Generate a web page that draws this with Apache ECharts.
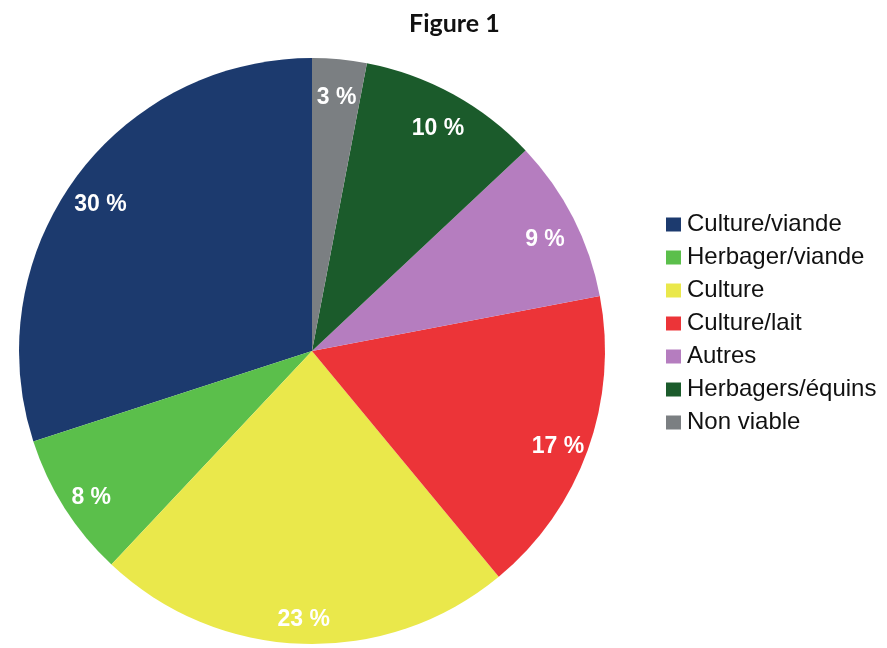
<!DOCTYPE html>
<html>
<head>
<meta charset="utf-8">
<script src="https://cdn.jsdelivr.net/npm/echarts@6/dist/echarts.min.js"></script>
<style>
  html, body { margin: 0; padding: 0; background: #ffffff; }
  #chart { width: 887px; height: 648px; }
</style>
</head>
<body>
<div id="chart"></div>
<script>
// Farm types, share of holdings (%)
const categories = ['Culture/viande', 'Herbager/viande', 'Culture', 'Culture/lait', 'Autres', 'Herbagers/équins', 'Non viable'];
const shares = [30, 8, 23, 17, 9, 10, 3];
const colors = ['#1c3a6e', '#5bbf4b', '#eae84b', '#ec3438', '#b57dbf', '#1b5b2b', '#7b7f82'];

const center = [312, 351];
const outerR = 293;

const pieData = categories.map((name, i) => ({ name, value: shares[i], itemStyle: { color: colors[i] } }));
// transparent ring used only to place the percentage labels near the rim
const labelData = categories.map((name, i) => ({ name, value: shares[i] }));

const chart = echarts.init(document.getElementById('chart'), null, { renderer: 'canvas' });
chart.setOption({
  animation: false,
  backgroundColor: '#ffffff',
  title: {
    text: 'Figure 1',
    left: 404,
    top: 6,
    textStyle: { fontFamily: 'Lato, sans-serif', fontWeight: 'bold', fontSize: 25, color: '#111111' }
  },
  legend: {
    orient: 'vertical',
    left: 661,
    top: 207,
    icon: 'rect',
    itemWidth: 15,
    itemHeight: 14,
    itemGap: 8,
    data: categories,
    textStyle: { fontFamily: '"Liberation Sans", Arial, sans-serif', fontSize: 24, color: '#111111', lineHeight: 25, padding: [0, 0, 0, 1] }
  },
  series: [
    {
      type: 'pie',
      center: center,
      radius: [0, outerR],
      startAngle: 90,
      clockwise: false,
      data: pieData,
      label: { show: false },
      labelLine: { show: false },
      itemStyle: { borderWidth: 0 },
      emphasis: { disabled: true }
    },
    {
      type: 'pie',
      center: center,
      radius: [224, outerR],
      startAngle: 90,
      clockwise: false,
      silent: true,
      data: labelData,
      itemStyle: { color: 'rgba(0,0,0,0)', borderWidth: 0 },
      label: {
        show: true,
        position: 'inside',
        offset: [0, 7],
        formatter: p => p.value + ' %',
        color: '#ffffff',
        fontFamily: '"Liberation Sans", Arial, sans-serif',
        fontWeight: 'bold',
        fontSize: 23
      },
      labelLine: { show: false },
      emphasis: { disabled: true }
    }
  ]
});
</script>
</body>
</html>
